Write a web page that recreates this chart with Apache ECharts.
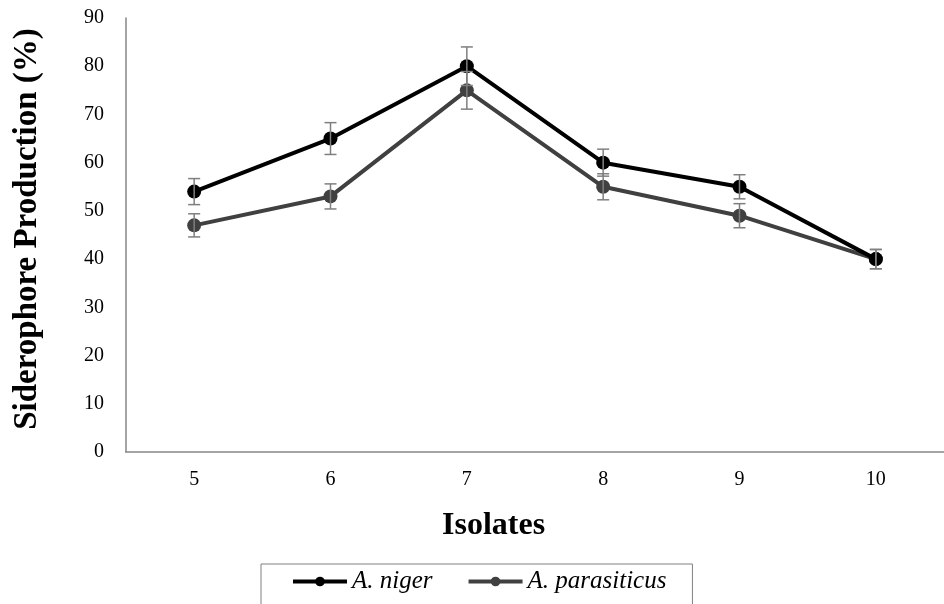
<!DOCTYPE html>
<html>
<head>
<meta charset="utf-8">
<script src="https://cdn.jsdelivr.net/npm/echarts@6/dist/echarts.min.js"></script>
<style>
html,body{margin:0;padding:0;background:#fff;}
#chart{width:944px;height:604px;}
</style>
</head>
<body>
<div id="chart"></div>
<script>
const categories = ['5', '6', '7', '8', '9', '10'];
const nigerValues = [54, 65, 80, 60, 55, 40];
const nigerErrors = [2.7, 3.3, 4.0, 2.8, 2.5, 2.0];
const parasiticusValues = [47, 53, 75, 55, 49, 40];
const parasiticusErrors = [2.4, 2.6, 3.9, 2.7, 2.5, 2.0];
const yTicks = { min: 0, max: 90, interval: 10 };

const FONT = '"Liberation Serif", "Times New Roman", serif';

function errData(vals, errs) {
  return vals.map((v, i) => [i, v, errs[i]]);
}
function errRender(params, api) {
  const x = api.value(0), y = api.value(1), e = api.value(2);
  const top = api.coord([x, y + e]);
  const bot = api.coord([x, y - e]);
  const w = 6;
  const st = { stroke: '#7f7f7f', lineWidth: 1.5 };
  return {
    type: 'group',
    children: [
      { type: 'line', shape: { x1: top[0], y1: top[1], x2: bot[0], y2: bot[1] }, style: st },
      { type: 'line', shape: { x1: top[0] - w, y1: top[1], x2: top[0] + w, y2: top[1] }, style: st },
      { type: 'line', shape: { x1: bot[0] - w, y1: bot[1], x2: bot[0] + w, y2: bot[1] }, style: st }
    ]
  };
}

const chart = echarts.init(document.getElementById('chart'), null, { renderer: 'canvas' });
chart.setOption({
  animation: false,
  backgroundColor: '#ffffff',
  title: {
    text: 'Isolates',
    left: 442,
    top: 510,
    padding: 0,
    textStyle: { fontFamily: FONT, fontWeight: 'bold', fontSize: 32, color: '#000' }
  },
  grid: { left: 126, right: -9, top: 18, bottom: 152 },
  legend: {
    left: 261,
    top: 564,
    padding: [5, 26, 30, 30],
    borderColor: '#808080',
    borderWidth: 1,
    itemWidth: 54,
    itemHeight: 12,
    itemGap: 34,
    lineStyle: { width: 4 },
    textStyle: { fontFamily: FONT, fontStyle: 'italic', fontSize: 25, color: '#000' },
    data: ['A. niger', 'A. parasiticus']
  },
  xAxis: {
    type: 'category',
    data: categories,
    boundaryGap: true,
    axisLine: { lineStyle: { color: '#868686', width: 1.5 } },
    axisTick: { show: false },
    axisLabel: { fontFamily: FONT, fontSize: 20, color: '#000', margin: 18 }
  },
  yAxis: {
    type: 'value',
    min: yTicks.min,
    max: yTicks.max,
    interval: yTicks.interval,
    name: 'Siderophore Production (%)',
    nameLocation: 'middle',
    nameGap: 82,
    nameTextStyle: { fontFamily: FONT, fontWeight: 'bold', fontSize: 33, color: '#000', padding: [0, 0, 0, 12] },
    axisLine: { show: true, lineStyle: { color: '#868686', width: 1.5 } },
    axisTick: { show: false },
    splitLine: { show: false },
    axisLabel: { fontFamily: FONT, fontSize: 20, color: '#000', margin: 22 }
  },
  series: [
    {
      name: 'A. niger',
      type: 'line',
      data: nigerValues,
      symbol: 'circle',
      symbolSize: 14,
      color: '#000000',
      lineStyle: { width: 4, color: '#000000' },
      itemStyle: { color: '#000000' },
      z: 3
    },
    {
      name: 'A. parasiticus',
      type: 'line',
      data: parasiticusValues,
      symbol: 'circle',
      symbolSize: 14,
      color: '#404040',
      lineStyle: { width: 4, color: '#404040' },
      itemStyle: { color: '#404040' },
      z: 2
    },
    {
      name: 'errNiger',
      type: 'custom',
      data: errData(nigerValues, nigerErrors),
      renderItem: errRender,
      encode: { x: 0, y: 1 },
      z: 5
    },
    {
      name: 'errParasiticus',
      type: 'custom',
      data: errData(parasiticusValues, parasiticusErrors),
      renderItem: errRender,
      encode: { x: 0, y: 1 },
      z: 5
    }
  ]
});
</script>
</body>
</html>
